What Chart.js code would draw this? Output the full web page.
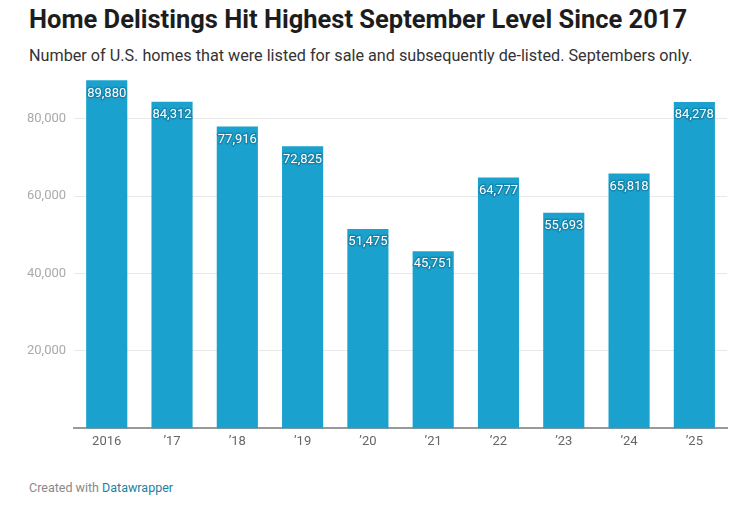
<!DOCTYPE html>
<html lang="en">
<head>
  <meta charset="UTF-8">
  <title>Home Delistings Hit Highest September Level Since 2017</title>
  <style>
    body {
      margin: 0;
      background: #fff;
      font-family: Roboto, Arial, sans-serif;
      width: 737px;
      height: 506px;
      overflow: hidden;
      position: relative;
    }
    .title {
      position: absolute;
      left: 29px;
      top: 4px;
      font-size: 25.5px;
      font-weight: 700;
      color: #1d1d1d;
    }
    .subtitle {
      position: absolute;
      left: 29px;
      top: 46px;
      font-size: 16.2px;
      color: #333;
    }
    .chart-box {
      position: absolute;
      left: 0;
      top: 64px;
      width: 737px;
      height: 392px;
    }
    .footer {
      position: absolute;
      left: 29px;
      top: 480px;
      font-size: 12.5px;
      color: #888;
    }
    .footer span { color: #1d81a2; }
  </style>
  <script src="https://cdn.jsdelivr.net/npm/chart.js"></script>
</head>
<body>
  <div class="title">Home Delistings Hit Highest September Level Since 2017</div>
  <div class="subtitle">Number of U.S. homes that were listed for sale and subsequently de-listed. Septembers only.</div>
  <div class="chart-box"><canvas id="delistChart"></canvas></div>
  <div class="footer">Created with <span>Datawrapper</span></div>

  <script>
    // September values
    const years = ['2016', '\u201917', '\u201918', '\u201919', '\u201920', '\u201921', '\u201922', '\u201923', '\u201924', '\u201925'];
    const delistings = [89880, 84312, 77916, 72825, 51475, 45751, 64777, 55693, 65818, 84278];
    const yTicks = [20000, 40000, 60000, 80000];

    // white value labels just inside the top of each bar
    const barLabels = {
      id: 'barLabels',
      afterDatasetsDraw(chart) {
        const ctx = chart.ctx;
        const meta = chart.getDatasetMeta(0);
        ctx.save();
        ctx.font = '13px Roboto';
        ctx.textAlign = 'center';
        ctx.textBaseline = 'middle';
        ctx.lineJoin = 'round';
        meta.data.forEach((bar, i) => {
          const txt = delistings[i].toLocaleString('en-US');
          ctx.lineWidth = 3;
          ctx.strokeStyle = 'rgba(20,120,155,0.6)';
          ctx.strokeText(txt, bar.x, bar.y + 13);
          ctx.fillStyle = '#fff';
          ctx.fillText(txt, bar.x, bar.y + 13);
        });
        ctx.restore();
      }
    };

    const ctx = document.getElementById('delistChart').getContext('2d');
    new Chart(ctx, {
      type: 'bar',
      data: {
        labels: years,
        datasets: [{
          data: delistings,
          backgroundColor: '#1aa1cd',
          barPercentage: 0.63,
          categoryPercentage: 1
        }]
      },
      options: {
        responsive: true,
        maintainAspectRatio: false,
        animation: false,
        layout: { padding: { left: 19, right: 10, top: 8, bottom: 0 } },
        plugins: {
          legend: { display: false },
          tooltip: { enabled: false }
        },
        scales: {
          x: {
            grid: { display: false, drawTicks: false },
            border: { color: '#999', width: 2 },
            ticks: { color: '#666', font: { family: 'Roboto', size: 13 }, padding: 6 }
          },
          y: {
            min: 0,
            max: 90000,
            afterBuildTicks: axis => { axis.ticks = yTicks.map(v => ({ value: v })); },
            grid: { color: '#e8e8e8', drawTicks: false },
            border: { display: false },
            ticks: {
              color: '#aaa',
              font: { family: 'Roboto', size: 13 },
              padding: 8,
              callback: v => v.toLocaleString('en-US')
            }
          }
        }
      },
      plugins: [barLabels]
    });
  </script>
</body>
</html>
